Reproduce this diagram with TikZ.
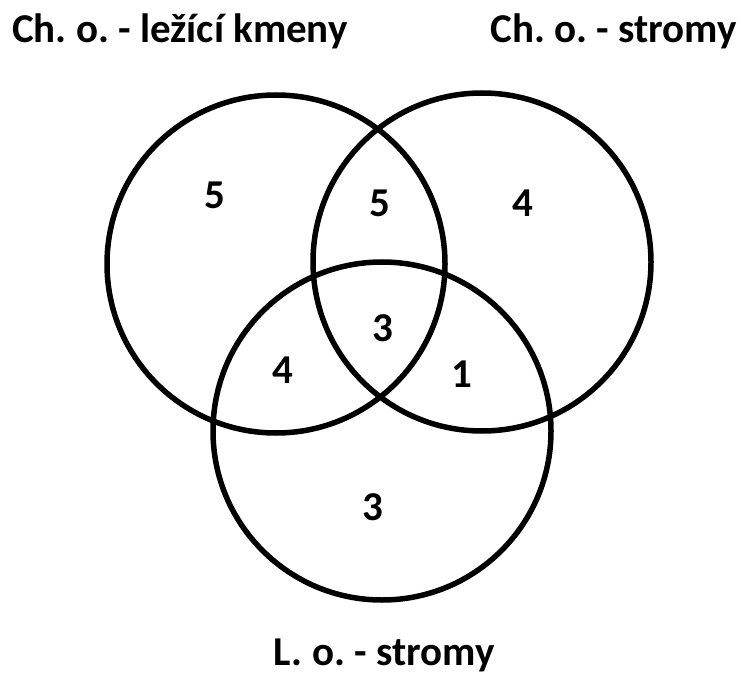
\documentclass[tikz,border=0pt]{standalone}
\usepackage{fontspec}
\setmainfont{Carlito}
\frenchspacing
\begin{document}
\begin{tikzpicture}[x=1pt, y=-1pt,
    set/.style = {draw, circle, line width=5.5pt, minimum size=338pt, inner sep=0pt},
    num/.style = {inner sep=0pt, font=\fontsize{41}{41}\selectfont\bfseries},
    title/.style = {inner sep=0pt, font=\fontsize{41}{41}\selectfont\bfseries}]
    \useasboundingbox (0,0) rectangle (741,676);

    % Sets with manual coordinates
    \node[set] (kmeny) at (276,264) {};
    \node[set] (stromy) at (482,262) {};
    \node[set] (lstromy) at (382,431) {};

    % Set names
    \node[title, anchor=base west] (tkmeny) at (12,43) {Ch. o. - ležící kmeny};
    \node[title, anchor=base east] (tstromy) at (737,43) {Ch. o. - stromy};
    \node[title, anchor=base] (tlstromy) at (384,665) {L. o. - stromy};

    % Counts
    \node[num] (a) at (215,195) {5};
    \node[num] (b) at (380,203) {5};
    \node[num] (c) at (523,203) {4};
    \node[num] (d) at (383,328) {3};
    \node[num] (e) at (283,370) {4};
    \node[num] (f) at (462,374) {1};
    \node[num] (g) at (373,507) {3};
\end{tikzpicture}
\end{document}
